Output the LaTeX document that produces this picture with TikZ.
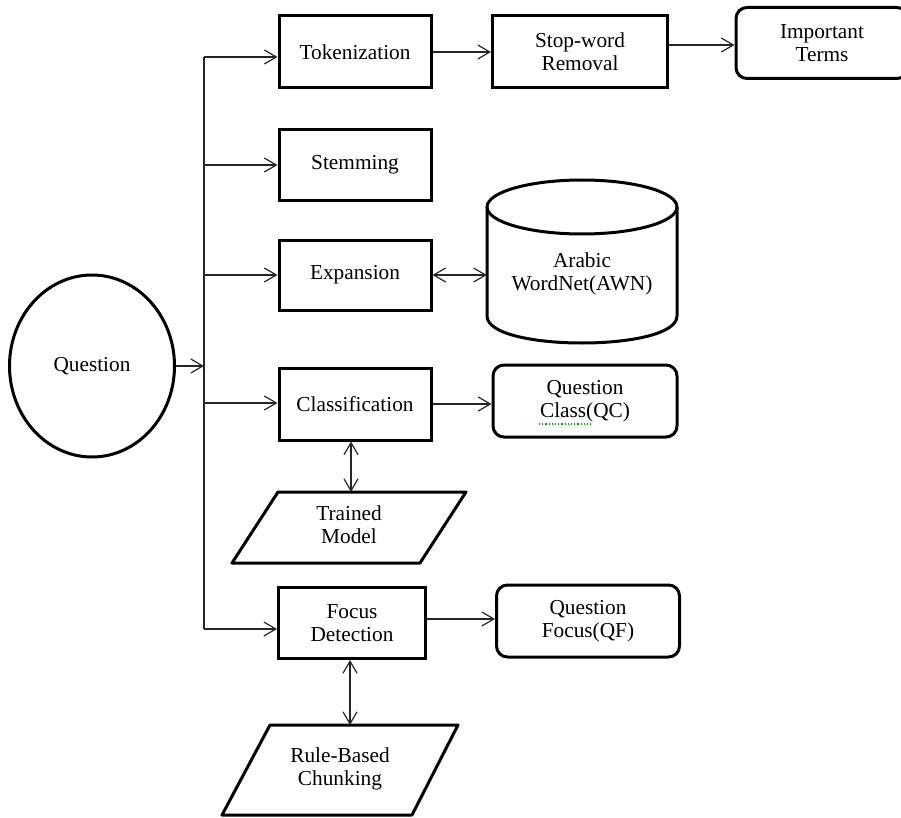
\documentclass[tikz,border=0pt]{standalone}
\usepackage{fontspec}
\setmainfont{Liberation Serif}
\usetikzlibrary{arrows.meta,shapes.geometric,calc}
\begin{document}
\begin{tikzpicture}[x=1pt,y=-1pt,
  every node/.style={font=\fontsize{21.3}{23}\selectfont, align=center, inner sep=0pt},
  procbox/.style={draw, line width=3pt, rectangle, minimum height=72pt},
  roundbox/.style={draw, line width=3pt, rectangle, rounded corners=11pt, minimum height=72pt},
  shapeline/.style={draw, line width=3pt, line join=round},
  conn/.style={line width=1.2pt, draw=black!85},
  tip/.tip={Straight Barb[length=12pt,width=14pt,line width=1.2pt]},
  onearrow/.style={conn, -tip},
  twoarrow/.style={conn, tip-tip}
]
\useasboundingbox (0,0) rectangle (901,818);
\clip (0,0) rectangle (901,818);

% input
\node[draw, ellipse, line width=3pt, minimum width=165pt, minimum height=182pt] (q) at (92,366) {Question};

% processing steps
\node[procbox, minimum width=152pt] (tok) at (355,52) {Tokenization};
\node[procbox, minimum width=152pt, minimum height=71pt] (stem) at (355,165) {Stemming};
\node[procbox, minimum width=152pt, minimum height=70pt] (exp) at (355,275) {Expansion};
\node[procbox, minimum width=152pt] (cls) at (355,404) {Classification};
\node[procbox, minimum width=147pt, minimum height=71pt] (fd) at (352,623) {Focus\\Detection};
\node[procbox, minimum width=175pt] (sw) at (580,52) {Stop-word\\Removal};

% outputs
\node[roundbox, minimum width=172pt, minimum height=71pt] (imp) at (822,43) {Important\\Terms};
\node[roundbox, minimum width=184pt] (qc) at (585,401) {Question\\Class(QC)};
\node[roundbox, minimum width=183pt] (qf) at (588,621) {Question\\Focus(QF)};
\draw[green!65!black, dotted, line width=1.2pt] (539,424) -- (592,424);

% Arabic WordNet store
\draw[shapeline] (487,207) -- (487,316) .. controls (487,352) and (677,352) .. (677,316) -- (677,207);
\draw[shapeline] (582,207) ellipse[x radius=95, y radius=27];
\node[minimum width=190pt, minimum height=100pt] (awn) at (582,274) {Arabic\\WordNet(AWN)};

% data inputs
\draw[shapeline] (278,492) -- (466,492) -- (420,563) -- (232,563) -- cycle;
\node (tm) at (349,525) {Trained\\Model};
\coordinate (tmtop) at (351,492);
\draw[shapeline] (270,725) -- (458,725) -- (412,815) -- (222,815) -- cycle;
\node (rbc) at (340,769) {Rule-Based\\Chunking};
\coordinate (rbctop) at (350,725);

% distribution bus
\coordinate (jq) at (204,366);
\coordinate (j1) at (204,57);
\coordinate (j2) at (204,165);
\coordinate (j3) at (204,275);
\coordinate (j4) at (204,403);
\coordinate (j5) at (204,629);
\draw[conn] (j1) -- (j5);
\draw[onearrow] (q.east) -- (jq);
\draw[onearrow] (j1) -- (j1 -| tok.west);
\draw[onearrow] (j2) -- (j2 -| stem.west);
\draw[onearrow] (j3) -- (j3 -| exp.west);
\draw[onearrow] (j4) -- (j4 -| cls.west);
\draw[onearrow] (j5) -- (j5 -| fd.west);

% step outputs
\draw[onearrow] (tok.east) -- (sw.west);
\draw[onearrow] (imp.west -| sw.east) ++(0,2) -- ($(imp.west)+(0,2)$);
\draw[twoarrow] (exp.east) -- (exp.east -| awn.west);
\draw[onearrow] (cls.east) -- (cls.east -| qc.west);
\draw[onearrow] ($(fd.east)+(0,-4)$) -- ($(fd.east -| qf.west)+(0,-4)$);
\draw[twoarrow] (cls.south -| tmtop) -- (tmtop);
\draw[twoarrow] (fd.south -| rbctop) -- (rbctop);
\end{tikzpicture}
\end{document}
